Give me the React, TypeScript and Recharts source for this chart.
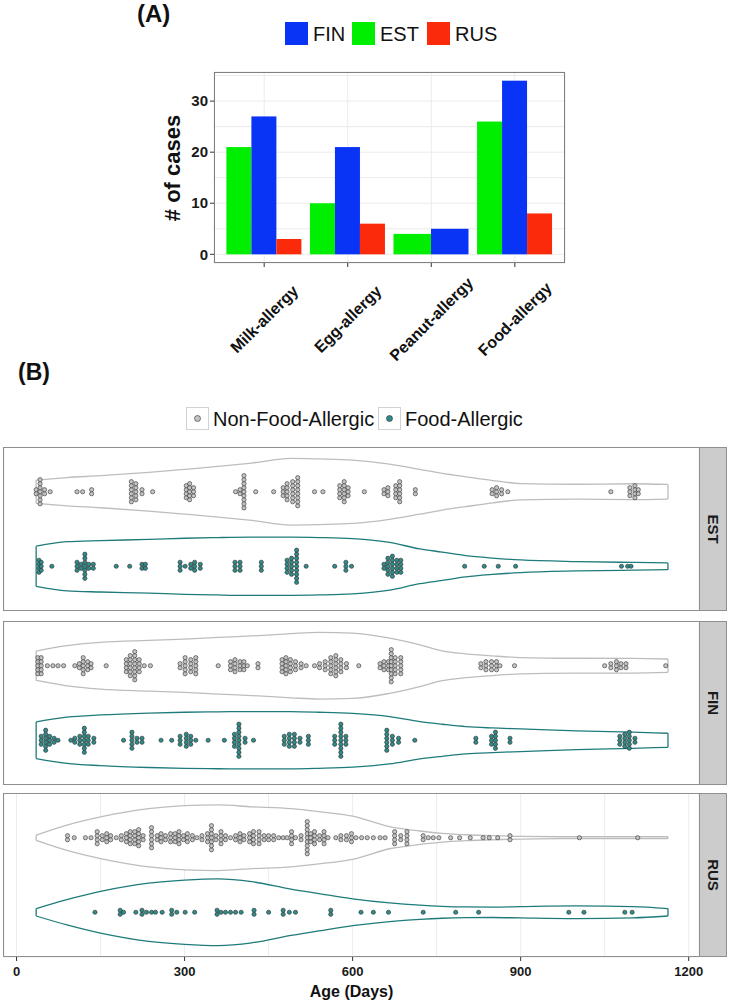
import React from 'react'
import { BarChart, Bar, XAxis, YAxis, CartesianGrid, ComposedChart, Area, Scatter, ReferenceLine } from 'recharts'

const FONT = '"Liberation Sans", Arial, Helvetica, sans-serif'

// ---- (A) number of allergy cases per country ----
const allergyTypes = ['Milk-allergy', 'Egg-allergy', 'Peanut-allergy', 'Food-allergy']
const estCases = [21, 10, 4, 26]
const finCases = [27, 21, 5, 34]
const rusCases = [3, 6, null, 8] // no peanut allergy in RUS, the bar is dropped
const caseTicks = [0, 5, 10, 15, 20, 25, 30, 35]

const FIN_COLOR = '#0a34f5'
const EST_COLOR = '#00ee00'
const RUS_COLOR = '#fb2a0b'

// ---- (B) age at sampling, binned dot stacks ----
const estNfaAges = [35, 42, 50, 60, 108, 118, 134, 205, 213, 224, 243, 303, 309, 316, 391, 399, 406, 427, 459, 476, 483, 493, 502, 532, 547, 577, 585, 592, 621, 656, 663, 677, 684, 712, 849, 857, 866, 877, 1061, 1095, 1104, 1110]
const estNfaCounts = [2, 7, 2, 1, 1, 1, 2, 6, 5, 2, 1, 4, 5, 3, 1, 2, 9, 1, 1, 3, 5, 6, 8, 1, 1, 4, 6, 3, 1, 2, 3, 4, 6, 2, 2, 3, 2, 1, 1, 3, 4, 2]
const estFaAges = [40, 44, 63, 108, 115, 122, 129, 137, 178, 202, 224, 230, 292, 301, 311, 318, 328, 390, 399, 437, 483, 491, 500, 517, 568, 588, 598, 656, 663, 671, 679, 686, 800, 835, 860, 891, 1080, 1091, 1097]
const estFaCounts = [4, 3, 1, 3, 2, 7, 2, 2, 1, 1, 2, 2, 3, 1, 2, 3, 2, 3, 3, 3, 4, 5, 9, 1, 1, 3, 1, 2, 5, 6, 4, 4, 1, 1, 1, 1, 1, 1, 1]

const finNfaAges = [38, 44, 55, 65, 74, 84, 104, 112, 119, 127, 133, 160, 196, 203, 211, 219, 228, 239, 292, 301, 311, 320, 360, 382, 390, 399, 406, 412, 431, 474, 481, 489, 498, 508, 517, 532, 541, 551, 561, 570, 579, 589, 611, 649, 656, 664, 669, 676, 686, 829, 838, 848, 857, 863, 889, 1050, 1061, 1071, 1079, 1088, 1159]
const finNfaCounts = [5, 5, 1, 1, 1, 1, 1, 2, 5, 3, 2, 1, 4, 6, 8, 4, 1, 1, 2, 5, 4, 5, 1, 3, 4, 3, 3, 1, 2, 4, 5, 4, 3, 2, 1, 1, 2, 3, 5, 6, 4, 2, 1, 2, 3, 3, 9, 5, 5, 2, 3, 3, 3, 1, 1, 1, 2, 3, 2, 2, 1]
const finFaAges = [44, 52, 59, 67, 74, 97, 104, 113, 121, 128, 138, 191, 206, 215, 224, 258, 277, 292, 303, 311, 320, 342, 371, 389, 397, 408, 423, 478, 487, 496, 506, 521, 568, 579, 588, 661, 671, 682, 711, 820, 848, 855, 881, 1077, 1086, 1094, 1104]
const finFaCounts = [3, 6, 3, 2, 1, 1, 2, 3, 7, 3, 2, 1, 5, 2, 2, 1, 1, 3, 4, 3, 1, 1, 1, 4, 9, 2, 1, 3, 4, 4, 2, 3, 3, 9, 3, 6, 3, 2, 1, 2, 3, 5, 2, 3, 4, 5, 2]

const rusNfaAges = [91, 103, 123, 133, 144, 153, 161, 168, 178, 187, 196, 203, 211, 218, 226, 241, 251, 258, 266, 275, 283, 290, 298, 305, 314, 322, 331, 341, 348, 356, 365, 373, 382, 391, 399, 406, 416, 423, 433, 442, 450, 459, 468, 476, 483, 491, 498, 508, 519, 525, 532, 541, 549, 556, 570, 579, 589, 598, 606, 616, 626, 637, 649, 658, 675, 686, 697, 726, 735, 744, 754, 775, 791, 810, 833, 844, 859, 881, 1005, 1109]
const rusNfaCounts = [2, 1, 1, 1, 4, 2, 3, 2, 1, 2, 3, 4, 4, 5, 2, 6, 2, 3, 2, 3, 3, 4, 2, 3, 2, 1, 2, 3, 7, 2, 4, 2, 1, 2, 3, 2, 3, 4, 4, 2, 2, 2, 1, 1, 1, 4, 1, 2, 9, 3, 4, 2, 4, 1, 1, 2, 2, 3, 1, 1, 1, 1, 1, 1, 4, 2, 4, 2, 1, 1, 1, 1, 1, 1, 1, 1, 1, 2, 1, 1]
const rusFaAges = [140, 185, 191, 213, 224, 232, 241, 248, 260, 277, 286, 301, 318, 358, 365, 373, 382, 391, 401, 424, 450, 476, 487, 498, 561, 615, 637, 664, 726, 784, 825, 986, 1013, 1086, 1099]
const rusFaCounts = [1, 2, 1, 1, 2, 1, 1, 1, 1, 2, 1, 1, 1, 2, 1, 1, 1, 1, 1, 2, 1, 2, 1, 1, 2, 1, 1, 1, 1, 1, 1, 1, 1, 1, 1]

// violin half widths (group spacing = 1) read at these ages
const violinAges = [35, 90, 150, 236, 300, 360, 420, 490, 540, 600, 666, 720, 760, 802, 850, 900, 1000, 1100, 1163]
const estNfaWidth = [0.157, 0.19, 0.215, 0.26, 0.3, 0.34, 0.385, 0.447, 0.44, 0.425, 0.37, 0.3, 0.246, 0.2, 0.15, 0.11, 0.1, 0.107, 0.098]
const estFaWidth = [0.27, 0.33, 0.345, 0.36, 0.376, 0.385, 0.39, 0.39, 0.385, 0.37, 0.32, 0.233, 0.19, 0.143, 0.11, 0.085, 0.063, 0.052, 0.045]
const finNfaWidth = [0.197, 0.27, 0.313, 0.34, 0.358, 0.38, 0.4, 0.43, 0.447, 0.438, 0.37, 0.28, 0.2, 0.16, 0.132, 0.11, 0.1, 0.098, 0.09]
const finFaWidth = [0.246, 0.31, 0.34, 0.365, 0.376, 0.382, 0.385, 0.384, 0.376, 0.36, 0.318, 0.25, 0.215, 0.183, 0.165, 0.152, 0.125, 0.108, 0.094]
const rusNfaWidth = [0.036, 0.17, 0.28, 0.39, 0.43, 0.44, 0.415, 0.39, 0.35, 0.29, 0.148, 0.09, 0.058, 0.04, 0.027, 0.018, 0.013, 0.013, 0.013]
const rusFaWidth = [0.05, 0.17, 0.28, 0.39, 0.43, 0.447, 0.41, 0.31, 0.25, 0.18, 0.125, 0.095, 0.08, 0.072, 0.07, 0.076, 0.085, 0.075, 0.05]

const ageGridTicks = [0, 150, 300, 450, 600, 750, 900, 1050, 1200]
const ageDomain = [-22.4, 1218.4]

const NFA_Y = 2
const FA_Y = 1
const DOT_STEP = 0.054
const NFA_FILL = '#c4c4c4'
const FA_FILL = '#2e8c89'
const NFA_LINE = '#bdbdbd'
const FA_LINE = '#1f7b7b'

const barData = allergyTypes.map((name, i) => ({ name, EST: estCases[i], FIN: finCases[i], RUS: rusCases[i] }))

// dotplot style: stack every bin centred on its group line
const stackDots = (ages: number[], counts: number[], center: number) =>
  ages.flatMap((age, i) =>
    Array.from({ length: counts[i] }, (_, k) => ({ age, y: center + (k - (counts[i] - 1) / 2) * DOT_STEP }))
  )

// ggplot dodge: when RUS is missing the two other bars share the full width
const barShape = (fill: string, who: string) => (p: any) => {
  let { x, width } = p
  if (p.payload && p.payload.RUS == null) {
    if (who === 'EST') width = width * 1.5
    if (who === 'FIN') {
      x = x + width * 0.5
      width = width * 1.5
    }
  }
  if (!p.height) return <g />
  return <rect x={x} y={p.y} width={width} height={p.height} fill={fill} />
}

const CaseTick = (p: any) => {
  if (p.payload.value % 10 !== 0) return <g />
  return (
    <g>
      <line x1={p.x + 2} x2={p.x + 6} y1={p.y} y2={p.y} stroke="#333" />
      <text x={p.x} y={p.y} dy="0.35em" textAnchor="end" fontSize={15} fontWeight="bold" fill="#1a1a1a" fontFamily={FONT}>
        {p.payload.value}
      </text>
    </g>
  )
}

const AllergyTick = (p: any) => (
  <g>
    <line x1={p.x} x2={p.x} y1={p.y - 6} y2={p.y - 2} stroke="#333" />
    <text transform={`translate(${p.x},${p.y + 50}) rotate(-45)`} textAnchor="middle" dy="0.35em" fontSize={16} fontWeight="bold" fill="#111" fontFamily={FONT}>
      {p.payload.value}
    </text>
  </g>
)

const AgeTick = (p: any) => {
  if (p.payload.value % 300 !== 0) return <g />
  return (
    <g>
      <line x1={p.x} x2={p.x} y1={p.y - 6} y2={p.y - 2} stroke="#333" />
      <text x={p.x} y={p.y + 13} textAnchor="middle" fontSize={13} fontWeight="bold" fill="#1a1a1a" fontFamily={FONT}>
        {p.payload.value}
      </text>
    </g>
  )
}

const dotShape = (fill: string) => (p: any) => (
  <circle cx={p.cx} cy={p.cy} r={2.1} fill={fill} stroke="#2b2b2b" strokeWidth={0.6} />
)

const txt = (s: any) => ({ position: 'absolute' as const, fontFamily: FONT, whiteSpace: 'nowrap' as const, lineHeight: 1, ...s })

function AgePanel(props: any) {
  const { label, top, nfaAges, nfaCounts, nfaWidth, faAges, faCounts, faWidth, showAxis } = props
  const rows = violinAges.map((age, i) => ({
    age,
    nfa: [NFA_Y - nfaWidth[i], NFA_Y + nfaWidth[i]],
    fa: [FA_Y - faWidth[i], FA_Y + faWidth[i]],
  }))
  const last = violinAges.length - 1
  const caps = [
    { age: violinAges[0], c: NFA_Y, w: nfaWidth[0], color: NFA_LINE },
    { age: violinAges[last], c: NFA_Y, w: nfaWidth[last], color: NFA_LINE },
    { age: violinAges[0], c: FA_Y, w: faWidth[0], color: FA_LINE },
    { age: violinAges[last], c: FA_Y, w: faWidth[last], color: FA_LINE },
  ]
  const h = 164
  const chartH = showAxis ? h + 44 : h
  return (
    <div style={{ position: 'absolute', left: 0, top, width: 731, height: chartH }}>
      <ComposedChart width={731} height={chartH} data={rows} margin={{ top: 0, right: 32, bottom: 0, left: 4 }}>
        <CartesianGrid stroke="#ececec" />
        <XAxis
          type="number"
          dataKey="age"
          domain={ageDomain}
          allowDataOverflow
          ticks={ageGridTicks}
          interval={0}
          height={showAxis ? 44 : 0}
          tick={showAxis ? <AgeTick /> : false}
          tickLine={false}
          axisLine={false}
          tickSize={4}
          tickMargin={2}
          label={showAxis ? { value: 'Age (Days)', position: 'insideBottom', offset: 4, fontSize: 16, fontWeight: 'bold', fill: '#111', fontFamily: FONT } : undefined}
        />
        <YAxis type="number" dataKey="y" domain={[0.4, 2.6]} ticks={[1, 2]} allowDataOverflow width={0} tick={false} tickLine={false} axisLine={false} />
        <Area type="monotone" dataKey="nfa" stroke={NFA_LINE} strokeWidth={1.3} fill="#fff" fillOpacity={1} dot={false} activeDot={false} isAnimationActive={false} />
        <Area type="monotone" dataKey="fa" stroke={FA_LINE} strokeWidth={1.3} fill="#fff" fillOpacity={1} dot={false} activeDot={false} isAnimationActive={false} />
        {caps.map((c, i) => (
          <ReferenceLine key={i} segment={[{ x: c.age, y: c.c - c.w }, { x: c.age, y: c.c + c.w }]} stroke={c.color} strokeWidth={1.3} />
        ))}
        <Scatter data={stackDots(nfaAges, nfaCounts, NFA_Y)} shape={dotShape(NFA_FILL)} isAnimationActive={false} />
        <Scatter data={stackDots(faAges, faCounts, FA_Y)} shape={dotShape(FA_FILL)} isAnimationActive={false} />
      </ComposedChart>
      <div style={{ position: 'absolute', left: 3, top: 0, width: 697, height: h, border: '1px solid #8f8f8f', boxSizing: 'border-box', pointerEvents: 'none' }} />
      <div style={{ position: 'absolute', left: 699, top: 0, width: 28, height: h, background: '#cccccc', border: '1px solid #8f8f8f', boxSizing: 'border-box' }}>
        <div style={txt({ left: '50%', top: '50%', transform: 'translate(-50%,-50%) rotate(90deg)', fontSize: 15, fontWeight: 'bold', color: '#1a1a1a' })}>{label}</div>
      </div>
    </div>
  )
}

function LegendSquare({ left, color, text }: any) {
  return (
    <>
      <div style={{ position: 'absolute', left, top: 22, width: 23, height: 23, background: color }} />
      <div style={txt({ left: left + 28, top: 23.5, height: 20, lineHeight: '20px', fontSize: 20, color: '#111' })}>{text}</div>
    </>
  )
}

function LegendDot({ left, fill, text }: any) {
  return (
    <>
      <div style={{ position: 'absolute', left, top: 407, width: 23, height: 23, border: '1px solid #d2d2d2', boxSizing: 'border-box' }}>
        <svg width={21} height={21} style={{ display: 'block' }}>
          <circle cx={10.5} cy={10.5} r={3} fill={fill} stroke="#2b2b2b" strokeWidth={0.6} />
        </svg>
      </div>
      <div style={txt({ left: left + 27, top: 408.5, height: 20, lineHeight: '20px', fontSize: 20, color: '#111' })}>{text}</div>
    </>
  )
}

export default function App() {
  return (
    <div style={{ position: 'absolute', left: 0, top: 0, width: 731, height: 1001, background: '#fff', fontFamily: FONT }}>
      {/* (A) */}
      <div style={txt({ left: 137, top: 2, fontSize: 24, fontWeight: 'bold', color: '#111' })}>(A)</div>
      <LegendSquare left={285} color={FIN_COLOR} text="FIN" />
      <LegendSquare left={352} color={EST_COLOR} text="EST" />
      <LegendSquare left={427} color={RUS_COLOR} text="RUS" />

      <div style={{ position: 'absolute', left: 140, top: 60 }}>
        <BarChart width={430} height={313} data={barData} margin={{ top: 12, right: 5, left: 0, bottom: 0 }} barGap={0} barCategoryGap={4}>
          <CartesianGrid stroke="#ebebeb" />
          <XAxis dataKey="name" padding={{ left: 8.4, right: 8.4 }} interval={0} height={110} tick={<AllergyTick />} tickLine={false} axisLine={false} tickSize={4} tickMargin={2} />
          <YAxis type="number" domain={[-1.7, 35.7]} allowDataOverflow ticks={caseTicks} interval={0} width={74} tick={<CaseTick />} tickLine={false} axisLine={false} tickSize={4} tickMargin={2} />
          <Bar dataKey="EST" fill={EST_COLOR} shape={barShape(EST_COLOR, 'EST')} isAnimationActive={false} />
          <Bar dataKey="FIN" fill={FIN_COLOR} shape={barShape(FIN_COLOR, 'FIN')} isAnimationActive={false} />
          <Bar dataKey="RUS" fill={RUS_COLOR} shape={barShape(RUS_COLOR, 'RUS')} isAnimationActive={false} />
        </BarChart>
      </div>
      <div style={{ position: 'absolute', left: 214, top: 72, width: 351, height: 191, border: '1px solid #7f7f7f', boxSizing: 'border-box', pointerEvents: 'none' }} />
      <div style={txt({ left: 173, top: 167.5, transform: 'translate(-50%,-50%) rotate(-90deg)', fontSize: 22, fontWeight: 'bold', color: '#111' })}># of cases</div>

      {/* (B) */}
      <div style={txt({ left: 18, top: 361, fontSize: 23, fontWeight: 'bold', color: '#111' })}>(B)</div>
      <LegendDot left={186} fill={NFA_FILL} text="Non-Food-Allergic" />
      <LegendDot left={378} fill={FA_FILL} text="Food-Allergic" />

      <AgePanel label="EST" top={447} nfaAges={estNfaAges} nfaCounts={estNfaCounts} nfaWidth={estNfaWidth} faAges={estFaAges} faCounts={estFaCounts} faWidth={estFaWidth} />
      <AgePanel label="FIN" top={621} nfaAges={finNfaAges} nfaCounts={finNfaCounts} nfaWidth={finNfaWidth} faAges={finFaAges} faCounts={finFaCounts} faWidth={finFaWidth} />
      <AgePanel label="RUS" top={793} nfaAges={rusNfaAges} nfaCounts={rusNfaCounts} nfaWidth={rusNfaWidth} faAges={rusFaAges} faCounts={rusFaCounts} faWidth={rusFaWidth} showAxis />
    </div>
  )
}
